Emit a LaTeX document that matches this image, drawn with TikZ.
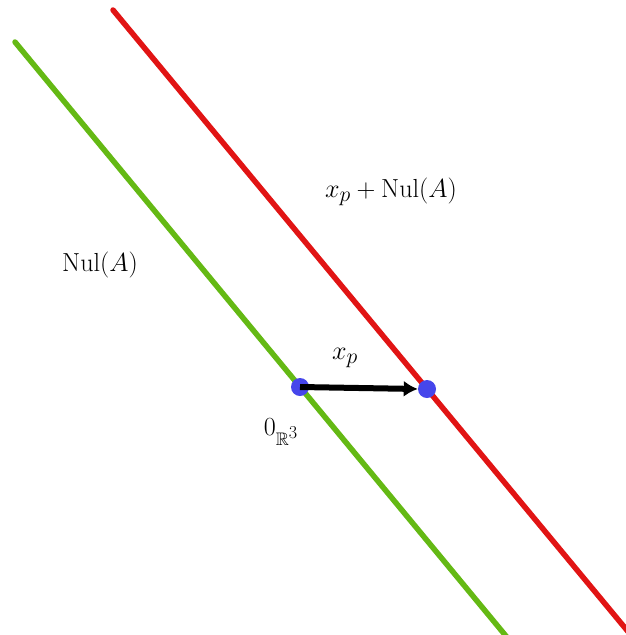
\documentclass[tikz,border=0pt]{standalone}
\usepackage{graphicx}
\usepackage{amsmath,amssymb}
\usetikzlibrary{arrows.meta}
\newcommand{\lbltext}[1]{\scalebox{1.05}{#1}}
\begin{document}
\begin{tikzpicture}[x=1pt,y=-1pt,
  lineseg/.style={line width=5.5pt,line cap=round},
  dot/.style={circle,fill={rgb,255:red,70;green,70;blue,235},inner sep=0pt,minimum size=18pt},
  lbl/.style={font=\Huge,inner sep=0pt}]
\useasboundingbox (0,0) rectangle (626,635);
\clip (0,0) rectangle (626,635);
\coordinate (g1) at (15,42);
\coordinate (g2) at (520,653);
\coordinate (r1) at (113,10);
\coordinate (r2) at (640,646);
\draw[lineseg,draw={rgb,255:red,100;green,185;blue,20}] (g1) -- (g2);
\draw[lineseg,draw={rgb,255:red,225;green,20;blue,20}] (r1) -- (r2);
\node[dot] (o) at (300,387) {};
\node[dot] (p) at (427,389) {};
\draw[line width=6pt,-{Latex[length=14pt,width=16pt]}] (o.center) -- (p.west);
\node[lbl] (lxp) at (391,192) {\lbltext{$x_p+\mathrm{Nul}(A)$}};
\node[lbl] (lnul) at (100,265) {\lbltext{$\mathrm{Nul}(A)$}};
\node[lbl] (lx) at (345,358) {\lbltext{$x_p$}};
\node[lbl] (lzero) at (281,432) {\lbltext{$0_{\scriptscriptstyle\mathbb{R}^3}$}};
\end{tikzpicture}
\end{document}
